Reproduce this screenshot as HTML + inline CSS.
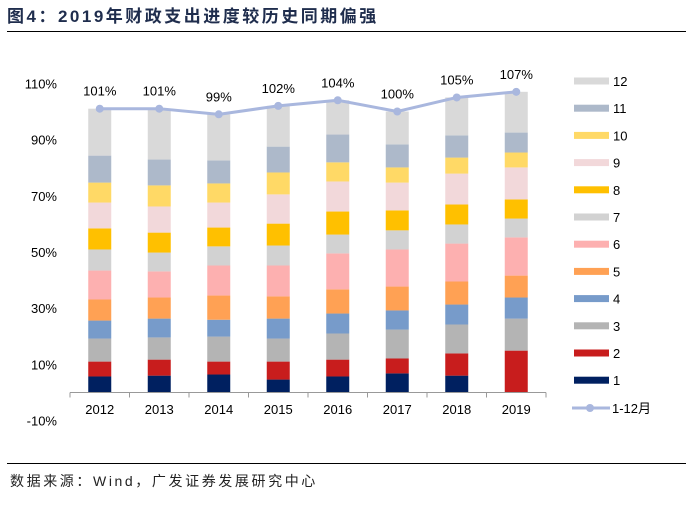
<!DOCTYPE html>
<html><head><meta charset="utf-8"><style>
body{margin:0;background:#fff;}
svg text{font-family:"Liberation Sans","Noto Sans CJK SC",sans-serif;}
</style></head><body>
<svg id="chart" width="686" height="509" xmlns="http://www.w3.org/2000/svg">
<text x="7" y="22" font-size="17" font-weight="bold" letter-spacing="2.5" fill="#1F2D4D">图4：2019年财政支出进度较历史同期偏强</text>
<line x1="7" y1="31.5" x2="686" y2="31.5" stroke="#000" stroke-width="1"/>
<line x1="7" y1="463.5" x2="686" y2="463.5" stroke="#000" stroke-width="1"/>
<text x="10" y="486" font-size="14" letter-spacing="2.6" fill="#222">数据来源：Wind，广发证券发展研究中心</text>
<g id="plot"></g>
</svg>
<script>
const years = ["2012","2013","2014","2015","2016","2017","2018","2019"];
const months = ["1","2","3","4","5","6","7","8","9","10","11","12"];
const m1 = [5.7,6.0,6.4,4.6,5.7,6.8,6.0,0];
const m2 = [5.3,5.7,4.6,6.4,6.0,5.3,7.9,14.9];
const m3 = [8.2,7.9,8.9,8.2,9.3,10.3,10.3,11.4];
const m4 = [6.4,6.7,6.0,7.1,7.1,6.8,7.1,7.5];
const m5 = [7.5,7.5,8.6,7.9,8.6,8.5,8.2,7.8];
const m6 = [10.3,9.3,10.7,11.0,12.8,13.2,13.5,13.6];
const m7 = [7.5,6.7,6.8,7.1,6.7,6.8,6.8,6.7];
const m8 = [7.5,7.1,6.7,7.8,8.2,7.1,7.1,6.8];
const m9 = [9.2,9.3,8.9,10.4,10.7,9.9,11.0,11.4];
const m10 = [7.1,7.5,6.8,7.8,6.8,5.4,5.7,5.3];
const m11 = [9.6,9.2,8.2,9.2,9.9,8.2,7.9,7.1];
const m12 = [16.7,18.1,16.4,14.5,12.2,11.7,13.5,14.5];
const total = [101,101,99,102,104,100,105,107];
const yTicks = [110,90,70,50,30,10,-10];
const series = [m1,m2,m3,m4,m5,m6,m7,m8,m9,m10,m11,m12];
const colors = ["#002060","#C81D1D","#B4B4B4","#779BCA","#FFA154","#FDB0B0","#D2D2D2","#FFC000","#F2D8DA","#FFD966","#ADB9CA","#D9D9D9"];
const NS="http://www.w3.org/2000/svg";
const g=document.getElementById('plot');
const x0=70, cw=59.5, y0=392.5, k=2.81;
const yS=v=>y0-v*k;
const xC=i=>x0+cw*(i+0.5);
function mk(t,a,txt){const e=document.createElementNS(NS,t);for(const n in a)e.setAttribute(n,a[n]);if(txt!==undefined)e.textContent=txt;g.appendChild(e);return e;}
yTicks.forEach(v=>{
  const e=mk('text',{x:57,y:yS(v)+5,'font-size':13,'text-anchor':'end',fill:'#000'},v+'%');
  
  
});
years.forEach((yr,i)=>{
  let cum=0;
  series.forEach((s,j)=>{
    const v=s[i];
    if(v>0){
      const r=mk('rect',{x:xC(i)-11.5,y:yS(cum+v),width:23,height:v*k,fill:colors[j]});
      
      
    }
    cum+=v;
  });
  const t=mk('text',{x:xC(i),y:414,'font-size':13,'text-anchor':'middle',fill:'#000'},yr);
  
  
});
const ax=mk('line',{x1:x0,y1:y0,x2:x0+cw*8,y2:y0,stroke:'#999','stroke-width':1});


for(let i=0;i<=8;i++){
  const tk=mk('line',{x1:x0+cw*i,y1:y0,x2:x0+cw*i,y2:y0+5,stroke:'#999'});
  
  
}
const pl=mk('polyline',{points:total.map((v,i)=>xC(i)+','+yS(v)).join(' '),fill:'none',stroke:'#A9B7DE','stroke-width':3});


total.forEach((v,i)=>{
  const c=mk('circle',{cx:xC(i),cy:yS(v),r:4,fill:'#A9B7DE'});
  
  
  const l=mk('text',{x:xC(i),y:yS(v)-13,'font-size':13,'text-anchor':'middle',fill:'#000'},v+'%');
  
  
});
for(let j=11;j>=0;j--){
  const yy=81+(11-j)*27.2;
  const r=mk('rect',{x:574,y:yy-3.5,width:35,height:7,fill:colors[j]});
  
  
  const t=mk('text',{x:613,y:yy+5,'font-size':13,fill:'#000'},months[j]);
  
  
}
const ll=mk('line',{x1:572,y1:408,x2:610,y2:408,stroke:'#A9B7DE','stroke-width':3});


const lc=mk('circle',{cx:590,cy:408,r:4,fill:'#A9B7DE'});


const lt=mk('text',{x:612,y:413,'font-size':13,fill:'#000'},'1-12月');


</script>
</body></html>
